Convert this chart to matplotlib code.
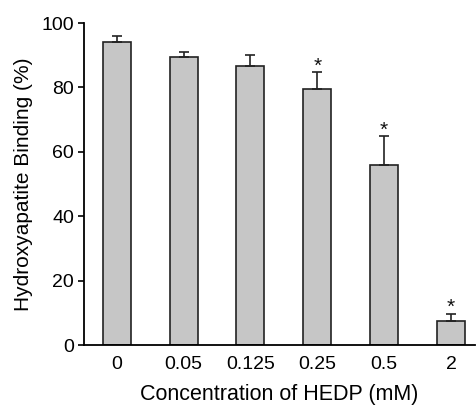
import matplotlib
matplotlib.use("Agg")
import matplotlib.pyplot as plt
import numpy as np

categories = ["0", "0.05", "0.125", "0.25", "0.5", "2"]
values = [94.2, 89.6, 86.7, 79.5, 55.9, 7.5]
errors = [1.7, 1.4, 3.4, 5.3, 8.9, 2.3]
significant = [False, False, False, True, True, True]
yticks = [0, 20, 40, 60, 80, 100]

plt.rcParams['font.family'] = ['Liberation Sans', 'DejaVu Sans']

fig = plt.figure(figsize=(4.77, 4.05), dpi=100)
ax = fig.add_axes([0.176, 0.148, 0.82, 0.795])

x = np.arange(len(categories))
ax.bar(x, values, width=0.42, color="#c6c6c6", edgecolor="#222222", linewidth=1.2, zorder=2)
ax.errorbar(x, values, yerr=[np.zeros(len(values)), errors], fmt="none",
            ecolor="#222222", elinewidth=1.2, capsize=3.5, capthick=1.2, zorder=3)
for xi, v, e, s in zip(x, values, errors, significant):
    if s:
        ax.annotate("*", xy=(xi, v + e), xytext=(0, -2.5), textcoords="offset points",
                    ha="center", va="bottom", fontsize=15, color="#111111")

ax.set_xlim(-0.49, 5.36)
ax.set_ylim(0, 100)
ax.set_xticks(x)
ax.set_xticklabels(categories, fontsize=14)
ax.set_yticks(yticks)
ax.set_yticklabels([str(t) for t in yticks], fontsize=14)
ax.tick_params(axis="x", length=0, pad=8)
ax.tick_params(axis="y", length=4, width=1.2, pad=3)
for sp in ["top", "right"]:
    ax.spines[sp].set_visible(False)
ax.spines["left"].set_linewidth(1.3)
ax.spines["bottom"].set_linewidth(1.3)
ax.set_xlabel("Concentration of HEDP (mM)", fontsize=15.5, labelpad=8)
ax.set_ylabel("Hydroxyapatite Binding (%)", fontsize=15, labelpad=6)

fig.savefig("out.png", dpi=100)
